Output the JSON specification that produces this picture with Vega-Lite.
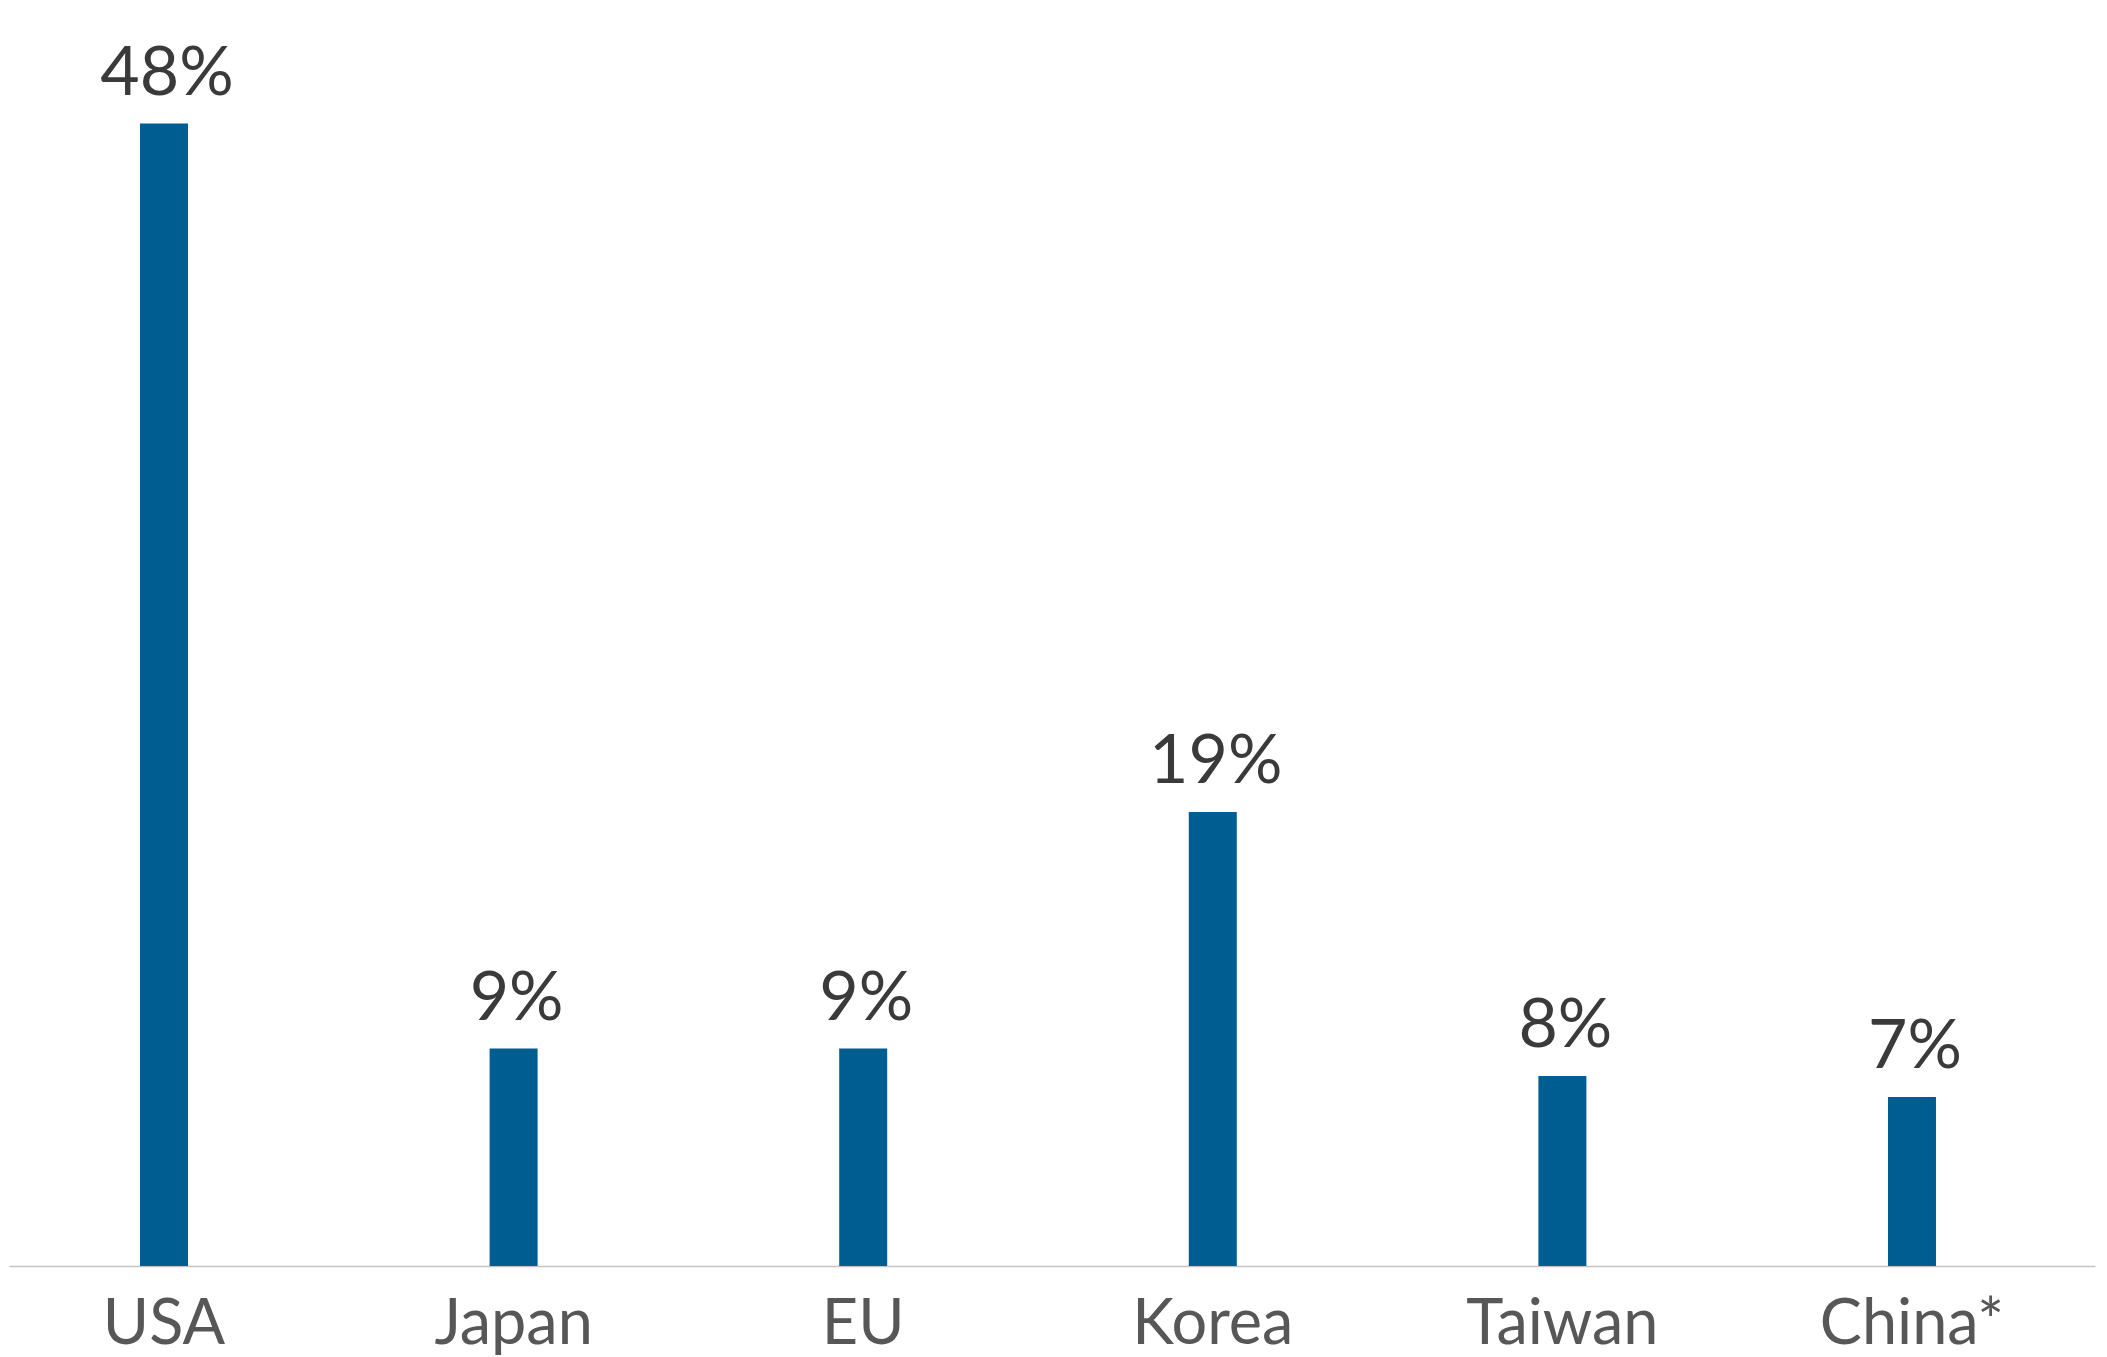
{
  "$schema": "https://vega.github.io/schema/vega-lite/v6.json",
  "autosize": {"type": "none"},
  "padding": {"left": 9, "top": 71, "right": 12, "bottom": 91},
  "width": 2086,
  "height": 1195,
  "background": "#ffffff",
  "config": {"view": {"stroke": null}},
  "data": {
    "values": [
      {"region": "USA", "share": 47.8, "label": "48%"},
      {"region": "Japan", "share": 9.1, "label": "9%"},
      {"region": "EU", "share": 9.1, "label": "9%"},
      {"region": "Korea", "share": 19.0, "label": "19%"},
      {"region": "Taiwan", "share": 7.95, "label": "8%"},
      {"region": "China*", "share": 7.07, "label": "7%"}
    ]
  },
  "encoding": {
    "x": {
      "field": "region",
      "type": "nominal",
      "sort": null,
      "scale": {"paddingInner": 0.8627, "paddingOuter": 0.4148, "align": 0.4517},
      "axis": {
        "title": null,
        "labelAngle": 0,
        "ticks": false,
        "tickSize": 0,
        "labelPadding": 77,
        "labelBaseline": "alphabetic",
        "labelLimit": 0,
        "labelFont": "Lato",
        "labelFontSize": 63,
        "labelColor": "#575757",
        "domainColor": "#c4c4c4",
        "domainWidth": 1.5,
        "grid": false
      }
    },
    "y": {
      "field": "share",
      "type": "quantitative",
      "scale": {"domain": [0, 50], "nice": false},
      "axis": null
    }
  },
  "layer": [
    {"mark": {"type": "bar", "color": "#005d92"}},
    {
      "mark": {"type": "text", "baseline": "alphabetic", "dy": -29, "dx": 3, "font": "Lato", "fontSize": 68, "color": "#3a3a3a"},
      "encoding": {"text": {"field": "label"}}
    }
  ]
}
